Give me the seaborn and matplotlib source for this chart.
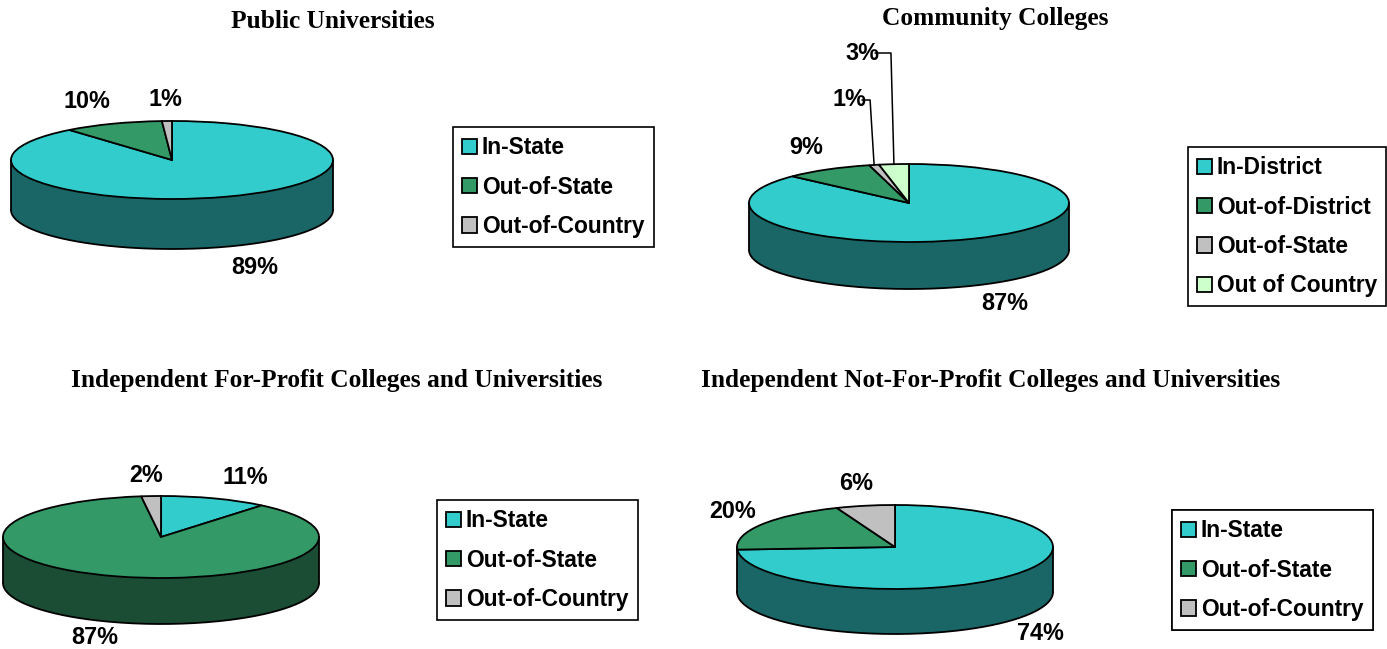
import numpy as np
import seaborn as sns
import matplotlib
matplotlib.use("Agg")
import matplotlib.pyplot as plt
from matplotlib.transforms import Affine2D
from matplotlib.colors import to_rgb

W, H = 1387, 649

# --- DATA ---
public_labels = ["In-State", "Out-of-State", "Out-of-Country"]
public_values = [89, 10, 1]

cc_labels = ["In-District", "Out-of-District", "Out-of-State", "Out of Country"]
cc_values = [87, 9, 1, 3]

forprofit_labels = ["In-State", "Out-of-State", "Out-of-Country"]
forprofit_values = [11, 87, 2]

nonprofit_labels = ["In-State", "Out-of-State", "Out-of-Country"]
nonprofit_values = [74, 20, 6]

titles = ["Public Universities", "Community Colleges",
          "Independent For-Profit Colleges and Universities",
          "Independent Not-For-Profit Colleges and Universities"]

CYAN, GREEN, GRAY, MINT = "#33CCCC", "#339966", "#C0C0C0", "#CCFFCC"

sns.set_style("white")
plt.rcParams["font.family"] = ["Liberation Sans", "DejaVu Sans"]
plt.rcParams["text.color"] = "black"

fig = plt.figure(figsize=(W / 100, H / 100), dpi=100)
ax = fig.add_axes([0, 0, 1, 1])


def pie3d(ax, values, colors, cx, cy, a, b, depth):
    """Flat pie squashed into an ellipse, with a dark side wall in front."""
    wedges, _ = ax.pie(values, colors=colors, startangle=90, counterclock=False,
                       wedgeprops=dict(edgecolor="black", linewidth=1.3))
    Y = H - cy
    tr = Affine2D().scale(a, b).translate(cx, Y) + ax.transData
    for w in wedges:
        w.set_transform(tr)
        w.set_zorder(3)
    # side wall, coloured per wedge for the front half
    for w, c in zip(wedges, colors):
        dark = tuple(0.5 * np.array(to_rgb(c)))
        for k in (-1, 0, 1):
            lo = max(w.theta1, 180 + 360 * k)
            hi = min(w.theta2, 360 + 360 * k)
            if hi > lo:
                t = np.radians(np.linspace(lo, hi, 150))
                xs = cx + a * np.cos(t)
                ys = Y + b * np.sin(t)
                ax.fill(np.r_[xs, xs[::-1]], np.r_[ys, ys[::-1] - depth],
                        color=dark, lw=0, zorder=1)
    t = np.radians(np.linspace(180, 360, 200))
    ax.plot(cx + a * np.cos(t), Y + b * np.sin(t) - depth, color="black", lw=1.3, zorder=2)
    for x0 in (cx - a, cx + a):
        ax.plot([x0, x0], [Y, Y - depth], color="black", lw=1.3, zorder=2)
    return wedges


def rim_point(w, cx, cy, a, b):
    mid = np.radians((w.theta1 + w.theta2) / 2)
    return cx + a * np.cos(mid), H - cy + b * np.sin(mid)


charts = [
    dict(values=public_values, labels=public_labels, colors=[CYAN, GREEN, GRAY],
         geom=(172, 160, 161, 39, 50), text_pos=[(255, 267), (87, 102), (165, 99)],
         legend=(453, 127), title=(333, 22)),
    dict(values=cc_values, labels=cc_labels, colors=[CYAN, GREEN, GRAY, MINT],
         geom=(909, 203, 160, 39, 47), text_pos=[(1005, 304), (806, 148), (849, 100), (862, 53)],
         legend=(1188, 147), title=(995, 19)),
    dict(values=forprofit_values, labels=forprofit_labels, colors=[CYAN, GREEN, GRAY],
         geom=(161, 537, 158, 41, 46), text_pos=[(245, 477), (95, 637), (146, 475)],
         legend=(437, 500), title=(337, 380)),
    dict(values=nonprofit_values, labels=nonprofit_labels, colors=[CYAN, GREEN, GRAY],
         geom=(895, 547, 158, 42, 45), text_pos=[(1040, 634), (733, 511), (856, 484)],
         legend=(1172, 510), title=(991, 380)),
]

for i, ch in enumerate(charts):
    cx, cy, a, b, depth = ch["geom"]
    wedges = pie3d(ax, ch["values"], ch["colors"], cx, cy, a, b, depth)
    for v, (tx, ty) in zip(ch["values"], ch["text_pos"]):
        ax.text(tx, H - ty, f"{v}%", ha="center", va="center", color="black",
                fontsize=16.8, fontweight="bold", zorder=5)
    # leader lines for the two thin community-college slices
    if i == 1:
        for j in (2, 3):
            rx, ry = rim_point(wedges[j], cx, cy, a, b)
            tx, ty = ch["text_pos"][j]
            ex = rx - 4 if j == 2 else rx - 3
            ax.plot([tx + 13, ex, rx], [H - ty, H - ty, ry], color="black", lw=1.1, zorder=4)
    lx, ly = ch["legend"]
    leg = ax.legend(wedges, ch["labels"], loc="upper left",
                    bbox_to_anchor=(lx / W, 1 - ly / H), bbox_transform=fig.transFigure,
                    borderaxespad=0, frameon=True, fancybox=False, framealpha=1,
                    edgecolor="black", prop=dict(size=16.4, weight="bold"),
                    handlelength=0.65, handleheight=0.65, handletextpad=0.22,
                    labelspacing=0.72, borderpad=0.4)
    leg.get_frame().set_linewidth(1.2)
    for txt in leg.get_texts():
        txt.set_color("black")
    ax.add_artist(leg)
    tx, ty = ch["title"]
    fig.text(tx / W, 1 - ty / H, titles[i], ha="center", va="center", color="black",
             fontsize=18.3, fontweight="bold", family="Liberation Serif")

ax.set_aspect("auto")
ax.set_xlim(0, W)
ax.set_ylim(0, H)
ax.axis("off")

fig.savefig("out.png", dpi=100, facecolor="white")
